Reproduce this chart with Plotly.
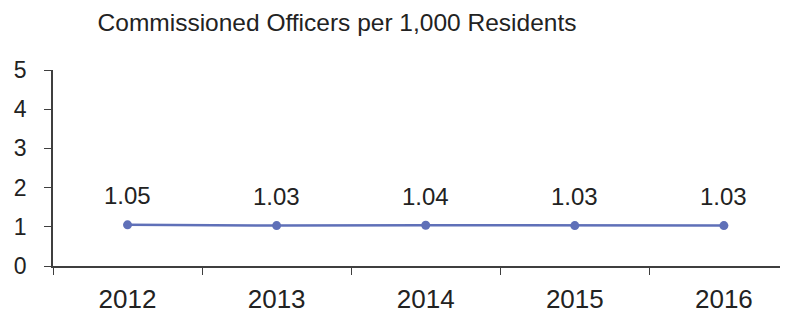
import plotly.graph_objects as go

years = ["2012", "2013", "2014", "2015", "2016"]
officers_per_1000 = [1.05, 1.03, 1.04, 1.03, 1.03]
value_labels = ["1.05", "1.03", "1.04", "1.03", "1.03"]
y_ticks = [0, 1, 2, 3, 4, 5]

line_color = "#5f70b8"
axis_color = "#3f3f3f"
text_color = "#222222"
font_family = "Liberation Sans, Arial, sans-serif"

fig = go.Figure()
fig.add_trace(go.Scatter(
    x=years, y=officers_per_1000, mode="lines+markers",
    line=dict(color=line_color, width=2.5),
    marker=dict(color=line_color, size=9),
    hoverinfo="skip", showlegend=False,
))

for i, (v, lab) in enumerate(zip(officers_per_1000, value_labels)):
    fig.add_annotation(x=i, y=v, xref="x", yref="y", text=lab,
                       showarrow=False, yshift=29,
                       font=dict(size=24, color=text_color, family=font_family))

# page body has an 8px margin, so the figure is offset by (8, 8)
fig.update_layout(
    width=780, height=306,
    margin=dict(l=45, r=0, t=62, b=45),
    paper_bgcolor="white", plot_bgcolor="white",
    font=dict(family=font_family, color=text_color),
    title=dict(text="Commissioned Officers per 1,000 Residents",
               x=329 / 780, xref="container", xanchor="center",
               y=1 - 14 / 306, yref="container", yanchor="middle",
               font=dict(size=24.5, color=text_color, family=font_family)),
)
fig.update_xaxes(type="category", range=[-0.5, 4.43], showgrid=False,
                 showline=True, linecolor=axis_color, linewidth=1.5,
                 ticks="outside", tickson="boundaries", ticklen=7,
                 tickcolor=axis_color, tickfont=dict(size=26, color=text_color),
                 ticklabelstandoff=9, zeroline=False)
fig.update_yaxes(range=[0, 5], tickvals=y_ticks, showgrid=False,
                 showline=True, linecolor=axis_color, linewidth=1.5,
                 ticks="outside", ticklen=7, tickcolor=axis_color,
                 tickfont=dict(size=23, color=text_color),
                 ticklabelstandoff=13, zeroline=False)

fig.write_html("out.html")
